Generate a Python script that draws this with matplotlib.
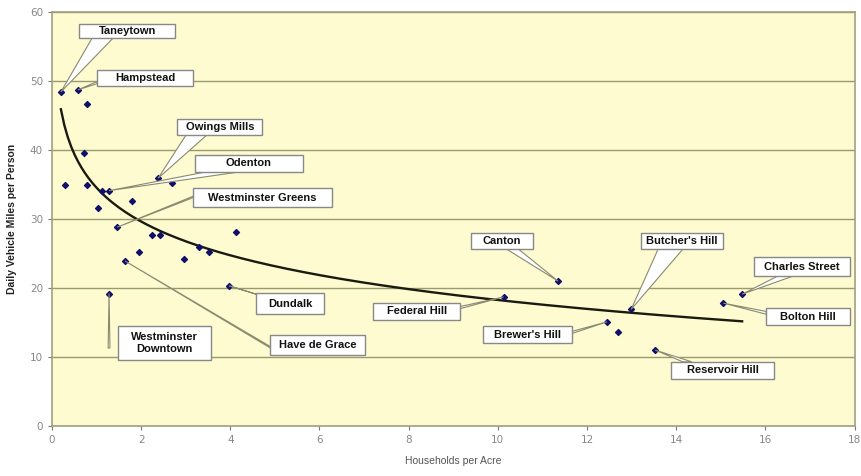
import numpy as np
import matplotlib
matplotlib.use("Agg")
import matplotlib.pyplot as plt
from matplotlib.patches import Rectangle, Polygon

# households per acre vs daily vehicle miles per person
hh_per_acre = [0.20, 0.58, 0.79, 0.72, 0.29, 0.79, 1.12, 1.28, 1.03, 1.80,
               2.38, 2.70, 1.46, 2.25, 2.43, 4.13, 3.30, 3.53, 1.96, 2.97,
               1.64, 1.28, 3.98, 11.35, 10.13, 12.99, 12.45, 12.70, 13.53,
               15.06, 15.48]
vmt_per_person = [48.4, 48.7, 46.7, 39.5, 34.9, 34.9, 34.1, 34.1, 31.6, 32.6,
                  35.9, 35.2, 28.8, 27.7, 27.7, 28.1, 25.9, 25.2, 25.2, 24.2,
                  23.9, 19.2, 20.3, 21.0, 18.7, 16.9, 15.1, 13.6, 11.0,
                  17.8, 19.1]

# callout text and which point each one points at
label_names = ["Taneytown", "Hampstead", "Owings Mills", "Odenton",
               "Westminster Greens", "Have de Grace", "Westminster\nDowntown",
               "Dundalk", "Canton", "Federal Hill", "Butcher's Hill",
               "Brewer's Hill", "Reservoir Hill", "Bolton Hill", "Charles Street"]
label_point = [0, 1, 10, 7, 12, 20, 21, 22, 23, 24, 25, 26, 28, 29, 30]

x_ticks = [0, 2, 4, 6, 8, 10, 12, 14, 16, 18]
y_ticks = [0, 10, 20, 30, 40, 50, 60]

# box (x0, x1, y0, y1) and wedge base points, in data units
layout = [
    ((0.61, 2.76, 56.2, 58.3), [(0.90, 56.2), (1.37, 56.2)]),
    ((1.01, 3.17, 49.3, 51.6), [(1.01, 49.6), (1.01, 49.9)]),
    ((2.81, 4.72, 42.2, 44.5), [(3.01, 42.2), (3.48, 42.2)]),
    ((3.21, 5.62, 36.8, 39.3), [(3.60, 37.0), (4.40, 37.0)]),
    ((3.17, 6.27, 31.7, 34.5), [(3.17, 33.1), (3.17, 33.3)]),
    ((4.90, 7.01, 10.3, 13.2), [(4.90, 11.3), (4.90, 11.5)]),
    ((1.48, 3.57, 9.6, 14.5), [(1.26, 11.3), (1.30, 11.3)]),
    ((4.58, 6.11, 16.2, 19.3), [(4.68, 18.9), (4.78, 18.7)]),
    ((9.39, 10.79, 25.7, 28.0), [(10.18, 25.7), (10.45, 25.7)]),
    ((7.21, 9.15, 15.4, 17.8), [(9.15, 17.0), (9.15, 17.3)]),
    ((13.21, 15.06, 25.7, 28.0), [(13.60, 25.7), (14.16, 25.7)]),
    ((9.66, 11.66, 12.0, 14.5), [(11.66, 13.4), (11.66, 13.7)]),
    ((13.89, 16.20, 6.8, 9.3), [(14.15, 9.3), (14.35, 9.3)]),
    ((16.02, 17.91, 14.6, 17.1), [(16.02, 16.2), (16.02, 16.6)]),
    ((15.75, 17.89, 21.7, 24.5), [(16.36, 22.0), (16.74, 22.0)]),
]

fig = plt.figure(figsize=(8.62, 4.76), dpi=100)
ax = fig.add_axes([0.0603, 0.105, 0.931, 0.870])
ax.set_facecolor("#fdfbcf")
ax.set_xlim(0, 18)
ax.set_ylim(0, 60)
ax.set_xticks(x_ticks)
ax.set_yticks(y_ticks)
ax.tick_params(labelsize=7.5, colors="#777777", length=3)
for lbl in ax.get_xticklabels() + ax.get_yticklabels():
    lbl.set_color("#888888")
ax.yaxis.grid(True, color="#9a9a70", lw=1.0)
ax.set_axisbelow(True)
for s in ax.spines.values():
    s.set_color("#a0a080")
    s.set_linewidth(1.2)

# log trendline fitted to the points (as the spreadsheet did)
xs = np.array(hh_per_acre)
ys = np.array(vmt_per_person)
b, a = np.polyfit(np.log(xs), ys, 1)
xt = np.linspace(xs.min(), xs.max(), 200)
ax.plot(xt, a + b * np.log(xt), color="#1a1a10", lw=1.7, zorder=3)

ax.scatter(xs, ys, marker="D", s=9, color="#10106a", zorder=4)

for name, idx, (box, base) in zip(label_names, label_point, layout):
    x0, x1, y0, y1 = box
    tip = (hh_per_acre[idx], vmt_per_person[idx])
    ax.add_patch(Polygon([base[0], tip, base[1]], closed=True, fc="white",
                         ec="#8a8a70", lw=0.8, zorder=5))
    ax.add_patch(Rectangle((x0, y0), x1 - x0, y1 - y0, fc="white",
                           ec="#888888", lw=1.0, zorder=6))
    ax.text((x0 + x1) / 2, (y0 + y1) / 2, name, ha="center", va="center",
            fontsize=8, fontweight="bold", family="Liberation Sans",
            color="#111111", linespacing=1.25, zorder=7)

ax.set_xlabel("Households per Acre", fontsize=7.5, color="#555555",
              family="Liberation Sans", labelpad=8)
ax.set_ylabel("Daily Vehicle Miles per Person", fontsize=7.5, color="#222222",
              fontweight="bold", family="Liberation Sans", labelpad=9)

fig.savefig("out.png", dpi=100)
